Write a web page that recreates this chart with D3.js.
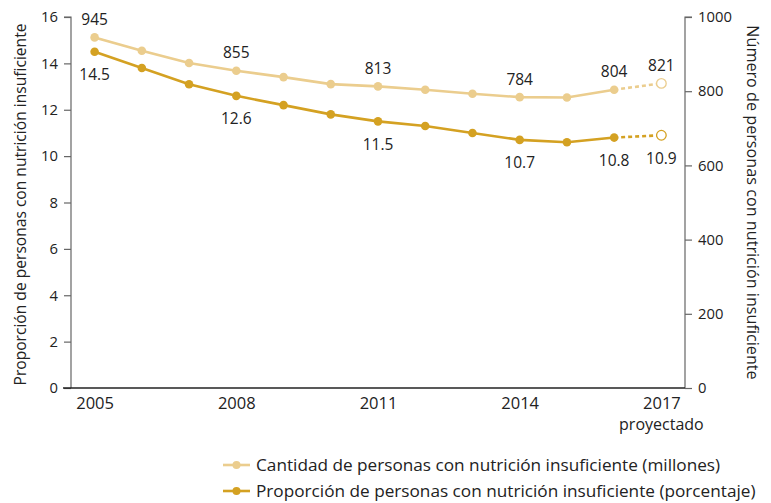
<!DOCTYPE html>
<html>
<head>
<meta charset="utf-8">
<script src="https://cdn.jsdelivr.net/npm/d3@7"></script>
<style>
  body { margin:0; background:#fff; }
  svg { display:block; font-family:"Open Sans", sans-serif; }
</style>
</head>
<body>
<div id="chart"></div>
<script>
// Data
const years = [2005,2006,2007,2008,2009,2010,2011,2012,2013,2014,2015,2016,2017];
const cantidad = [945,909,876,855,838,819,813,804,793,784,783,804,821];          // millones
const proporcion = [14.5,13.8,13.1,12.6,12.2,11.8,11.5,11.3,11.0,10.7,10.6,10.8,10.9]; // porcentaje
const labeledYears = [2005,2008,2011,2014,2016,2017];
const xTicks = [2005,2008,2011,2014,2017];
const leftTicks = [0,2,4,6,8,10,12,14,16];
const rightTicks = [0,200,400,600,800,1000];
const projectedYear = 2017;

const lightC = "#ebcd8e", darkC = "#d4a122";
const W = 771, H = 503;
const margin = {top:17, right:86, bottom:115, left:71};

const svg = d3.select('#chart').append('svg').attr('width', W).attr('height', H);

const x = d3.scaleLinear().domain([2004.5, 2017.5]).range([margin.left, W - margin.right]);
const yL = d3.scaleLinear().domain([0,16]).range([H - margin.bottom, margin.top]);
const yR = d3.scaleLinear().domain([0,1000]).range([H - margin.bottom, margin.top]);

// axes
const gl = svg.append('g').attr('transform',`translate(${margin.left},0)`)
  .call(d3.axisLeft(yL).tickValues(leftTicks).tickSize(7).tickPadding(6));
gl.selectAll('path,line').attr('stroke','#666').attr('stroke-width',1.2);
gl.select('.domain').attr('d', `M0,${yL(0)}V${yL(16)}H-7`);

const gr = svg.append('g').attr('transform',`translate(${W - margin.right},0)`)
  .call(d3.axisRight(yR).tickValues(rightTicks).tickFormat(d3.format('d')).tickSize(7).tickPadding(6));
gr.selectAll('path,line').attr('stroke','#666').attr('stroke-width',1.2);
gr.select('.domain').attr('d', `M0,${yR(0)}V${yR(1000)}H7`);

const gx = svg.append('g').attr('transform',`translate(0,${H - margin.bottom})`)
  .call(d3.axisBottom(x).tickValues(xTicks).tickFormat(d3.format('d')).tickSize(0).tickPadding(9));
gx.select('.domain').attr('d', `M${margin.left-8},0H${W - margin.right}`).attr('stroke','#222').attr('stroke-width',1.5);

gl.attr('font-family', null).attr('font-size', 14.8).selectAll('text').attr('fill','#222');
gr.attr('font-family', null).attr('font-size', 14.8).selectAll('text').attr('fill','#222');
gx.attr('font-family', null).attr('font-size', 16.5).selectAll('text').attr('fill','#222');

svg.append('text').attr('x', x(projectedYear)).attr('y', H - margin.bottom + 42)
  .attr('text-anchor','middle').attr('font-size',16).attr('fill','#222').text('proyectado');

// axis titles
svg.append('text').attr('transform', `translate(21,${(yL(0)+yL(16))/2 + 2}) rotate(-90)`)
  .attr('text-anchor','middle').attr('dy','0.35em').attr('font-size',15.6).attr('fill','#222')
  .text('Proporción de personas con nutrición insuficiente');
svg.append('text').attr('transform', `translate(753,${(yR(0)+yR(1000))/2}) rotate(90)`)
  .attr('text-anchor','middle').attr('dy','0.35em').attr('font-size',16.2).attr('fill','#222')
  .text('Número de personas con nutrición insuficiente');

// series
const series = [
  {key:'cantidad', values:cantidad, y:yR, color:lightC, labelDy:-18},
  {key:'proporcion', values:proporcion, y:yL, color:darkC, labelDy:23}
];

series.forEach(s => {
  const pts = years.map((yr,i) => ({year:yr, v:s.values[i]}));
  const solid = pts.filter(d => d.year < projectedYear);
  const proj = pts.slice(-2);
  const line = d3.line().x(d => x(d.year)).y(d => s.y(d.v));
  const g = svg.append('g');
  g.append('path').datum(solid).attr('d', line).attr('fill','none')
    .attr('stroke', s.color).attr('stroke-width', 2.6);
  g.append('path').datum(proj).attr('d', line).attr('fill','none')
    .attr('stroke', s.color).attr('stroke-width', 2.6).attr('stroke-dasharray','4,3');
  g.selectAll('circle.dot').data(solid).enter().append('circle').attr('class','dot')
    .attr('cx', d => x(d.year)).attr('cy', d => s.y(d.v)).attr('r', 4.3).attr('fill', s.color);
  g.append('circle').attr('cx', x(projectedYear)).attr('cy', s.y(s.values[s.values.length-1]))
    .attr('r', 4.8).attr('fill','#fff').attr('stroke', s.color).attr('stroke-width',1.3);
  g.selectAll('text').data(pts.filter(d => labeledYears.includes(d.year))).enter().append('text')
    .attr('x', d => x(d.year)).attr('y', d => s.y(d.v) + s.labelDy).attr('dy','0.35em')
    .attr('text-anchor','middle').attr('font-size',15.5).attr('fill','#222')
    .text(d => d.v);
});

// legend
const legend = [
  {label:'Cantidad de personas con nutrición insuficiente (millones)', color:lightC},
  {label:'Proporción de personas con nutrición insuficiente (porcentaje)', color:darkC}
];
const lg = svg.selectAll('g.leg').data(legend).enter().append('g').attr('class','leg')
  .attr('transform', (d,i) => `translate(223,${465 + i*26})`);
lg.append('line').attr('x1',0).attr('x2',27).attr('stroke', d => d.color).attr('stroke-width',2.6);
lg.append('circle').attr('cx',13.5).attr('r',4).attr('fill', d => d.color);
lg.append('text').attr('x',33).attr('dy','0.35em').attr('font-size',17.2).attr('fill','#222').text(d => d.label);
</script>
</body>
</html>
